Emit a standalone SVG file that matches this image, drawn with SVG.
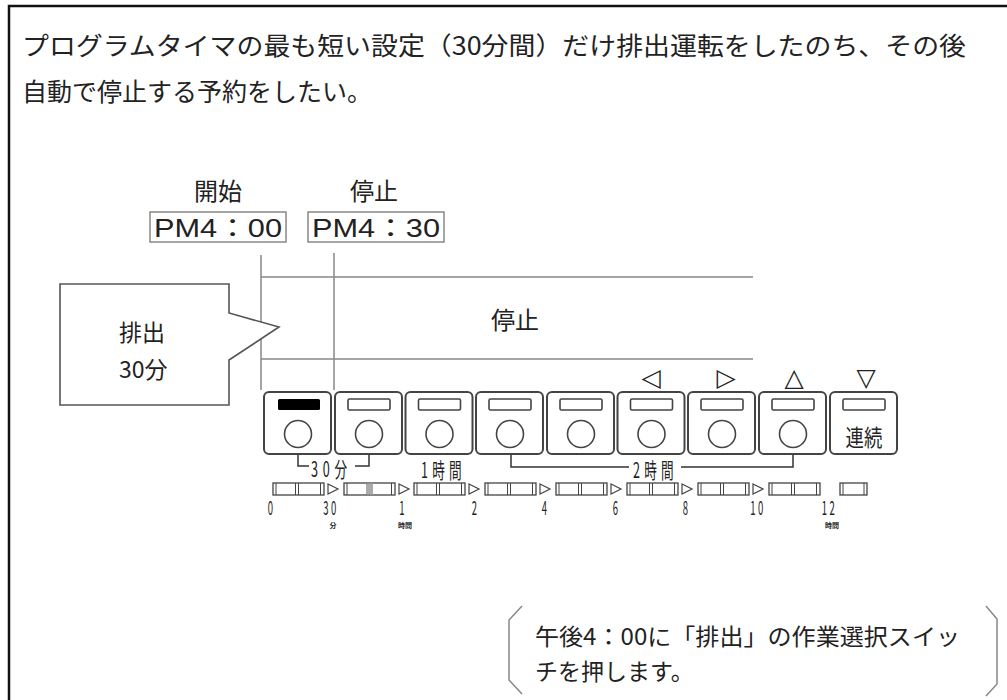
<svg xmlns="http://www.w3.org/2000/svg" width="1007" height="700" viewBox="0 0 1007 700">
<style>
.jp{font-family:"Noto Sans CJK JP","Noto Sans",sans-serif;fill:#222}
.lat{font-family:"Liberation Sans","Noto Sans CJK JP",sans-serif;fill:#222}
.sym{font-family:"DejaVu Sans",sans-serif;fill:#222}
.cond{font-family:"Noto Sans CJK JP","DejaVu Sans",sans-serif;fill:#222}
.btn{fill:#fff;stroke:#444;stroke-width:2}
.ind{fill:#fff;stroke:#444;stroke-width:1.6}
.knob{fill:#fff;stroke:#444;stroke-width:1.6}
.bar{fill:#fff;stroke:#444;stroke-width:1.3}
.bl{stroke:#444;stroke-width:1;fill:none}
.tri{fill:#fff;stroke:#444;stroke-width:1.2}
.gl{stroke:#888;stroke-width:1.5;fill:none}
.br{stroke:#333;stroke-width:1.5;fill:none}
</style>
<defs>
<g id="barshape">
<rect class="bar" x="0" y="0" width="51" height="12"/>
<path class="bl" d="M3,0V12M22.5,0V12M25.5,0V12M47.5,0V12"/>
</g>
<polygon id="arr" class="tri" points="0,1 10,6 0,11"/>
</defs>
<rect x="9" y="6" width="1010" height="710" fill="#fff" stroke="#111" stroke-width="2.5"/>

<g id="title">
<text class="jp" x="22" y="55" font-size="25" textLength="944" lengthAdjust="spacingAndGlyphs">プログラムタイマの最も短い設定（30分間）だけ排出運転をしたのち、その後</text>
<text class="jp" x="22" y="101" font-size="25">自動で停止する予約をしたい。</text>
</g>

<g id="start-label">
<text class="jp" x="218" y="200" font-size="24" text-anchor="middle">開始</text>
<rect x="150" y="212" width="136" height="30" fill="#fff" stroke="#888" stroke-width="1.5"/>
<text class="lat" x="154" y="237" font-size="25" textLength="128" lengthAdjust="spacingAndGlyphs">PM4：00</text>
</g>
<g id="stop-label">
<text class="jp" x="374" y="200" font-size="24" text-anchor="middle">停止</text>
<rect x="308" y="212" width="136" height="30" fill="#fff" stroke="#888" stroke-width="1.5"/>
<text class="lat" x="312" y="237" font-size="25" textLength="128" lengthAdjust="spacingAndGlyphs">PM4：30</text>
</g>

<g id="connectors">
<path class="gl" d="M261,255V390M334,253V390"/>
<path class="gl" d="M261,277H753M261,359H753"/>
<path class="br" d="M298,455V466H309M355,466H369V455"/>
<path class="br" d="M511,454V467H629M681,467H793V454"/>
</g>

<g id="stop-band">
<text class="jp" x="515" y="329" font-size="24" text-anchor="middle">停止</text>
</g>

<g id="callout">
<path d="M60,284H229V313L279,327L229,360V405H60Z" fill="#fff" stroke="#555" stroke-width="1.6"/>
<text class="jp" x="119" y="341" font-size="23">排出</text>
<text class="jp" x="119" y="378" font-size="23">30分</text>
</g>

<g id="arrows-top">
<text class="sym" x="651" y="386" font-size="25" text-anchor="middle">◁</text>
<text class="sym" x="726" y="386" font-size="25" text-anchor="middle">▷</text>
<text class="sym" x="794" y="386" font-size="25" text-anchor="middle">△</text>
<text class="sym" x="866" y="386" font-size="25" text-anchor="middle">▽</text>
</g>

<g id="button1"><rect class="btn" x="264" y="392" width="67" height="62" rx="5"/><rect x="278" y="399" width="42" height="11" rx="1.5" fill="#000"/><circle class="knob" cx="298" cy="434" r="13.5"/></g>
<g id="button2"><rect class="btn" x="335" y="392" width="67" height="62" rx="5"/><rect class="ind" x="348" y="399" width="42" height="11" rx="1.5"/><circle class="knob" cx="369" cy="434" r="13.5"/></g>
<g id="button3"><rect class="btn" x="405.5" y="392" width="67" height="62" rx="5"/><rect class="ind" x="418.5" y="399" width="42" height="11" rx="1.5"/><circle class="knob" cx="439.5" cy="434" r="13.5"/></g>
<g id="button4"><rect class="btn" x="476" y="392" width="67" height="62" rx="5"/><rect class="ind" x="489" y="399" width="42" height="11" rx="1.5"/><circle class="knob" cx="510" cy="434" r="13.5"/></g>
<g id="button5"><rect class="btn" x="547" y="392" width="67" height="62" rx="5"/><rect class="ind" x="560" y="399" width="42" height="11" rx="1.5"/><circle class="knob" cx="581" cy="434" r="13.5"/></g>
<g id="button6"><rect class="btn" x="617.5" y="392" width="67" height="62" rx="5"/><rect class="ind" x="630.5" y="399" width="42" height="11" rx="1.5"/><circle class="knob" cx="651.5" cy="434" r="13.5"/></g>
<g id="button7"><rect class="btn" x="688" y="392" width="67" height="62" rx="5"/><rect class="ind" x="701" y="399" width="42" height="11" rx="1.5"/><circle class="knob" cx="722" cy="434" r="13.5"/></g>
<g id="button8"><rect class="btn" x="759" y="392" width="67" height="62" rx="5"/><rect class="ind" x="772" y="399" width="42" height="11" rx="1.5"/><circle class="knob" cx="793" cy="434" r="13.5"/></g>
<g id="button9"><rect class="btn" x="830" y="392" width="67" height="62" rx="5"/><rect class="ind" x="843" y="399" width="42" height="11" rx="1.5"/><text class="cond" transform="translate(864,446) scale(0.8,1)" font-size="23" text-anchor="middle">連続</text></g>

<g id="range-labels">
<text class="cond" transform="translate(311,477) scale(0.6,1)" font-size="21" letter-spacing="8">30分</text>
<text class="cond" transform="translate(421,478) scale(0.6,1)" font-size="21" letter-spacing="7">1時間</text>
<text class="cond" transform="translate(633,478) scale(0.6,1)" font-size="21" letter-spacing="7">2時間</text>
</g>

<g id="timer-bars">
<use href="#barshape" x="273" y="483"/>
<use href="#barshape" x="344" y="483"/>
<rect x="366" y="483.5" width="7" height="11" fill="#aaa"/>
<use href="#barshape" x="414" y="483"/>
<use href="#barshape" x="485" y="483"/>
<use href="#barshape" x="556" y="483"/>
<use href="#barshape" x="627" y="483"/>
<use href="#barshape" x="698" y="483"/>
<use href="#barshape" x="769" y="483"/>
<rect class="bar" x="840" y="483" width="27" height="12"/>
<path class="bl" d="M843,483V495M864,483V495"/>
<use href="#arr" x="328" y="483"/>
<use href="#arr" x="399" y="483"/>
<use href="#arr" x="469" y="483"/>
<use href="#arr" x="540" y="483"/>
<use href="#arr" x="611" y="483"/>
<use href="#arr" x="682" y="483"/>
<use href="#arr" x="753" y="483"/>
</g>

<g id="scale-numbers">
<text class="cond" transform="translate(270.5,515) scale(0.5,1)" font-size="19" text-anchor="middle">0</text>
<text class="cond" transform="translate(331,515) scale(0.5,1)" font-size="19" text-anchor="middle" letter-spacing="5">30</text>
<text class="cond" transform="translate(402,515) scale(0.5,1)" font-size="19" text-anchor="middle">1</text>
<text class="cond" transform="translate(474.5,515) scale(0.5,1)" font-size="19" text-anchor="middle">2</text>
<text class="cond" transform="translate(544.5,515) scale(0.5,1)" font-size="19" text-anchor="middle">4</text>
<text class="cond" transform="translate(615.5,515) scale(0.5,1)" font-size="19" text-anchor="middle">6</text>
<text class="cond" transform="translate(685.5,515) scale(0.5,1)" font-size="19" text-anchor="middle">8</text>
<text class="cond" transform="translate(758,515) scale(0.5,1)" font-size="19" text-anchor="middle" letter-spacing="5">10</text>
<text class="cond" transform="translate(829.5,515) scale(0.5,1)" font-size="19" text-anchor="middle" letter-spacing="5">12</text>
<text class="cond" x="333" y="528" font-size="7" font-weight="bold" text-anchor="middle">分</text>
<text class="cond" x="405" y="528" font-size="7" font-weight="bold" text-anchor="middle">時間</text>
<text class="cond" x="832" y="528" font-size="7" font-weight="bold" text-anchor="middle">時間</text>
</g>

<g id="note">
<path class="gl" d="M522,606L509,620V680L522,694" stroke="#666"/>
<path class="gl" d="M986,606L997,619V684L986,696" stroke="#666"/>
<text class="jp" x="535" y="645" font-size="23" textLength="425" lengthAdjust="spacingAndGlyphs">午後4：00に「排出」の作業選択スイッ</text>
<text class="jp" x="535" y="680" font-size="23">チを押します。</text>
</g>
</svg>
